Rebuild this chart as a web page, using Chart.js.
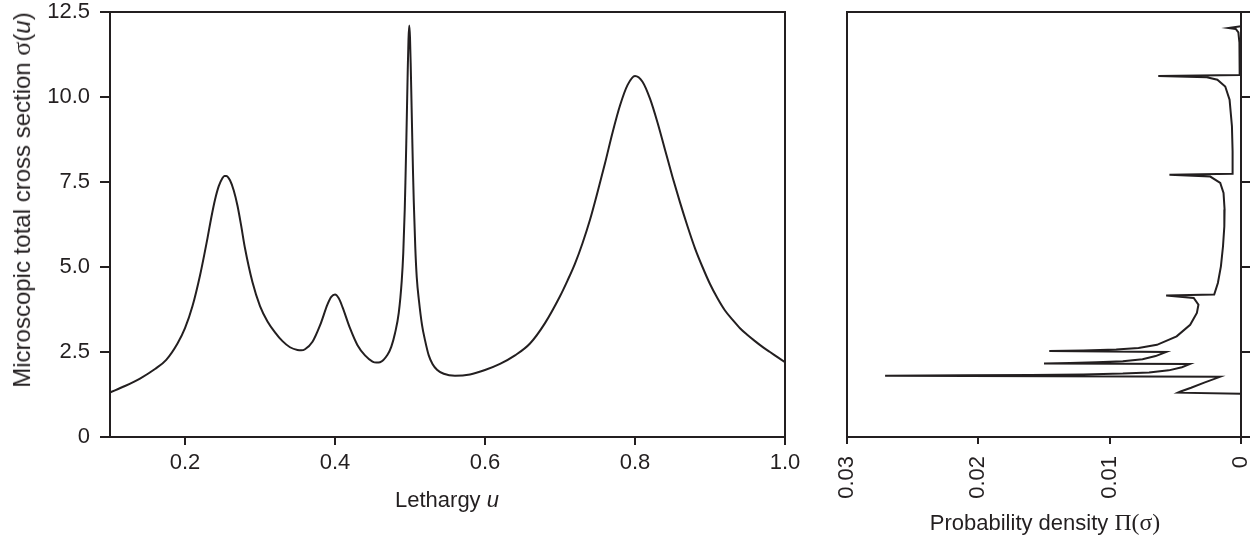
<!DOCTYPE html>
<html>
<head>
<meta charset="utf-8">
<script src="https://cdn.jsdelivr.net/npm/chart.js@4.4.1/dist/chart.umd.min.js"></script>
<style>
  html, body { margin: 0; padding: 0; background: #fff; }
  body { width: 1257px; height: 541px; position: relative; overflow: hidden;
         font-family: "Liberation Sans", Arial, sans-serif; color: #231f20; }
  canvas { position: absolute; top: 0; }
  #crossChart { left: 0; }
  #densityChart { left: 800px; }
  .ttl { position: absolute; font-size: 22px; white-space: nowrap; line-height: 1; }
  #ttlX { left: 447px; top: 489px; transform: translateX(-50%); }
  #ttlY { left: 22px; top: 200px; font-size: 24px; transform: translate(-50%, -50%) rotate(-90deg); }
  #ttlPi { left: 1045px; top: 511px; transform: translateX(-50%); }
  .serif { font-family: "Liberation Serif", "DejaVu Serif", serif; font-size: 1.08em; }
</style>
</head>
<body>
<canvas id="crossChart" width="800" height="541"></canvas>
<canvas id="densityChart" width="457" height="541"></canvas>
<div class="ttl" id="ttlX">Lethargy <i>u</i></div>
<div class="ttl" id="ttlY">Microscopic total cross section <span class="serif">σ</span>(<i>u</i>)</div>
<div class="ttl" id="ttlPi">Probability density <span class="serif">Π(σ)</span></div>
<script>
// ---- cross section σ(u) against lethargy u ----
const lethargy = [
  0.10, 0.12, 0.14, 0.16, 0.175, 0.19, 0.20, 0.21, 0.22, 0.23, 0.235, 0.24, 0.245, 0.25, 0.2525, 0.255,
  0.26, 0.265, 0.27, 0.275, 0.28, 0.29, 0.30, 0.31, 0.32, 0.33, 0.34, 0.35, 0.355, 0.36, 0.37, 0.38,
  0.39, 0.395, 0.40, 0.405, 0.41, 0.42, 0.43, 0.44, 0.45, 0.455, 0.46, 0.47, 0.475, 0.48, 0.485, 0.489,
  0.491, 0.493, 0.494, 0.495, 0.496, 0.497, 0.498, 0.499, 0.500, 0.501, 0.502, 0.503, 0.504, 0.505, 0.507, 0.509,
  0.512, 0.516, 0.52, 0.525, 0.53, 0.536, 0.545, 0.56, 0.58, 0.60, 0.62, 0.64, 0.66, 0.68, 0.70, 0.71,
  0.72, 0.73, 0.74, 0.75, 0.76, 0.77, 0.78, 0.79, 0.80, 0.81, 0.82, 0.83, 0.84, 0.85, 0.86, 0.87,
  0.88, 0.89, 0.90, 0.91, 0.92, 0.93, 0.94, 0.95, 0.96, 0.97, 0.98, 0.99, 1.00
];
const crossSection = [
  1.31, 1.50, 1.72, 2.00, 2.27, 2.75, 3.20, 3.85, 4.75, 5.85, 6.45, 6.98, 7.38, 7.62, 7.68, 7.68,
  7.55, 7.25, 6.80, 6.20, 5.55, 4.55, 3.85, 3.40, 3.08, 2.82, 2.64, 2.56, 2.55, 2.58, 2.80, 3.28,
  3.90, 4.12, 4.19, 4.08, 3.82, 3.20, 2.70, 2.40, 2.22, 2.19, 2.20, 2.42, 2.65, 3.05, 3.65, 4.60,
  5.40, 6.70, 7.60, 8.60, 9.70, 10.80, 11.70, 12.10, 11.75, 10.90, 9.85, 8.80, 7.80, 6.95, 5.60, 4.70,
  4.00, 3.30, 2.85, 2.40, 2.15, 1.98, 1.86, 1.80, 1.84, 1.97, 2.15, 2.40, 2.75, 3.35, 4.14, 4.60,
  5.10, 5.70, 6.39, 7.20, 8.05, 8.95, 9.75, 10.35, 10.62, 10.45, 9.95, 9.25, 8.45, 7.65, 6.90, 6.20,
  5.55, 5.00, 4.50, 4.08, 3.72, 3.45, 3.20, 3.00, 2.82, 2.65, 2.50, 2.35, 2.20
];

// ---- probability density Π(σ), traced from the top of the σ range down ----
const densityPi = [
  0, 0.00095, 0.0004, 0.0002, 0.00012, 0.0001, 0.0001, 0.0063, 0.0026, 0.0018, 0.0012, 0.00087, 0.00069, 0.00064, 0.00064, 0.00545,
  0.00234, 0.00158, 0.00133, 0.00125, 0.00127, 0.00137, 0.00153, 0.00176, 0.00204, 0.0057, 0.0036, 0.00324, 0.00336, 0.00387, 0.0049, 0.0064,
  0.0078, 0.0095, 0.012, 0.0146, 0.0057, 0.0065, 0.0075, 0.009, 0.011, 0.013, 0.0150, 0.0039, 0.0045, 0.0055, 0.007, 0.009,
  0.012, 0.016, 0.021, 0.0271, 0.0016, 0.0028, 0.0038, 0.0046, 0.0048, 0
];
const densitySigma = [
  12.08, 12.03, 12.00, 11.90, 11.60, 11.00, 10.65, 10.62, 10.58, 10.51, 10.31, 9.92, 9.14, 8.40, 7.74, 7.71,
  7.66, 7.47, 7.18, 6.69, 6.19, 5.61, 5.02, 4.53, 4.19, 4.16, 4.09, 3.89, 3.65, 3.30, 2.96, 2.71,
  2.62, 2.57, 2.545, 2.53, 2.50, 2.38, 2.29, 2.23, 2.195, 2.175, 2.16, 2.145, 2.05, 1.96, 1.90, 1.865,
  1.84, 1.825, 1.815, 1.805, 1.77, 1.60, 1.45, 1.34, 1.305, 1.275
];

// tick positions
const lethargyTicks = [0.2, 0.4, 0.6, 0.8, 1.0];
const sigmaTicks = [0, 2.5, 5.0, 7.5, 10.0, 12.5];
const densityTicks = [0, 0.01, 0.02, 0.03];

const INK = '#231f20';
const FONT = { family: '"Liberation Sans", Arial, sans-serif', size: 22 };

// box round the plot area
const frame = {
  id: 'frame',
  afterDatasetsDraw(chart) {
    const { ctx, chartArea: a } = chart;
    ctx.save();
    ctx.strokeStyle = INK;
    ctx.lineWidth = 2;
    ctx.strokeRect(a.left, a.top, a.right - a.left, a.bottom - a.top);
    ctx.restore();
  }
};

const setTicks = list => scale => { scale.ticks = list.map(v => ({ value: v })); };
const gridOpts = len => ({ drawOnChartArea: false, drawTicks: true, tickLength: len, color: INK, tickColor: INK, lineWidth: 2, tickWidth: 2 });

new Chart(document.getElementById('crossChart'), {
  type: 'line',
  data: {
    datasets: [{
      data: lethargy.map((u, i) => ({ x: u, y: crossSection[i] })),
      borderColor: INK, borderWidth: 2, pointRadius: 0,
      cubicInterpolationMode: 'monotone', fill: false
    }]
  },
  options: {
    responsive: false, animation: false, devicePixelRatio: 1,
    layout: { padding: { top: 12, right: 15, left: 0, bottom: 0 } },
    plugins: { legend: { display: false }, tooltip: { enabled: false } },
    scales: {
      x: {
        type: 'linear', min: 0.1, max: 1.0,
        afterBuildTicks: setTicks(lethargyTicks),
        afterFit: s => { s.height = 104; s.paddingLeft = 0; s.paddingRight = 0; },
        grid: gridOpts(8),
        border: { color: INK, width: 2 },
        ticks: { color: INK, font: FONT, padding: 5, maxRotation: 0, autoSkip: false,
                 callback: v => v.toFixed(1) }
      },
      y: {
        type: 'linear', min: 0, max: 12.5,
        afterBuildTicks: setTicks(sigmaTicks),
        afterFit: s => { s.width = 110; s.paddingTop = 0; s.paddingBottom = 0; },
        grid: gridOpts(10),
        border: { color: INK, width: 2 },
        ticks: { color: INK, font: FONT, padding: 10, autoSkip: false,
                 callback: v => v === 0 ? '0' : v.toFixed(1) }
      }
    }
  },
  plugins: [frame]
});

new Chart(document.getElementById('densityChart'), {
  type: 'scatter',
  data: {
    datasets: [{
      data: densityPi.map((p, i) => ({ x: p, y: densitySigma[i] })),
      showLine: true, borderColor: INK, borderWidth: 2, pointRadius: 0, tension: 0, fill: false
    }]
  },
  options: {
    responsive: false, animation: false, devicePixelRatio: 1,
    layout: { padding: { top: 12, right: 0, left: 47, bottom: 0 } },
    plugins: { legend: { display: false }, tooltip: { enabled: false } },
    scales: {
      x: {
        type: 'linear', min: 0, max: 0.03, reverse: true,
        afterBuildTicks: setTicks(densityTicks),
        afterFit: s => { s.height = 104; s.paddingLeft = 0; s.paddingRight = 0; },
        grid: gridOpts(7),
        border: { color: INK, width: 2 },
        ticks: { color: INK, font: FONT, padding: 12, minRotation: 90, maxRotation: 90, autoSkip: false,
                 callback: v => v === 0 ? '0' : v.toFixed(2) }
      },
      y: {
        type: 'linear', position: 'right', min: 0, max: 12.5,
        afterBuildTicks: setTicks(sigmaTicks),
        afterFit: s => { s.width = 16; s.paddingTop = 0; s.paddingBottom = 0; },
        grid: gridOpts(9),
        border: { color: INK, width: 2 },
        ticks: { display: false }
      }
    }
  },
  plugins: [frame]
});
</script>
</body>
</html>
